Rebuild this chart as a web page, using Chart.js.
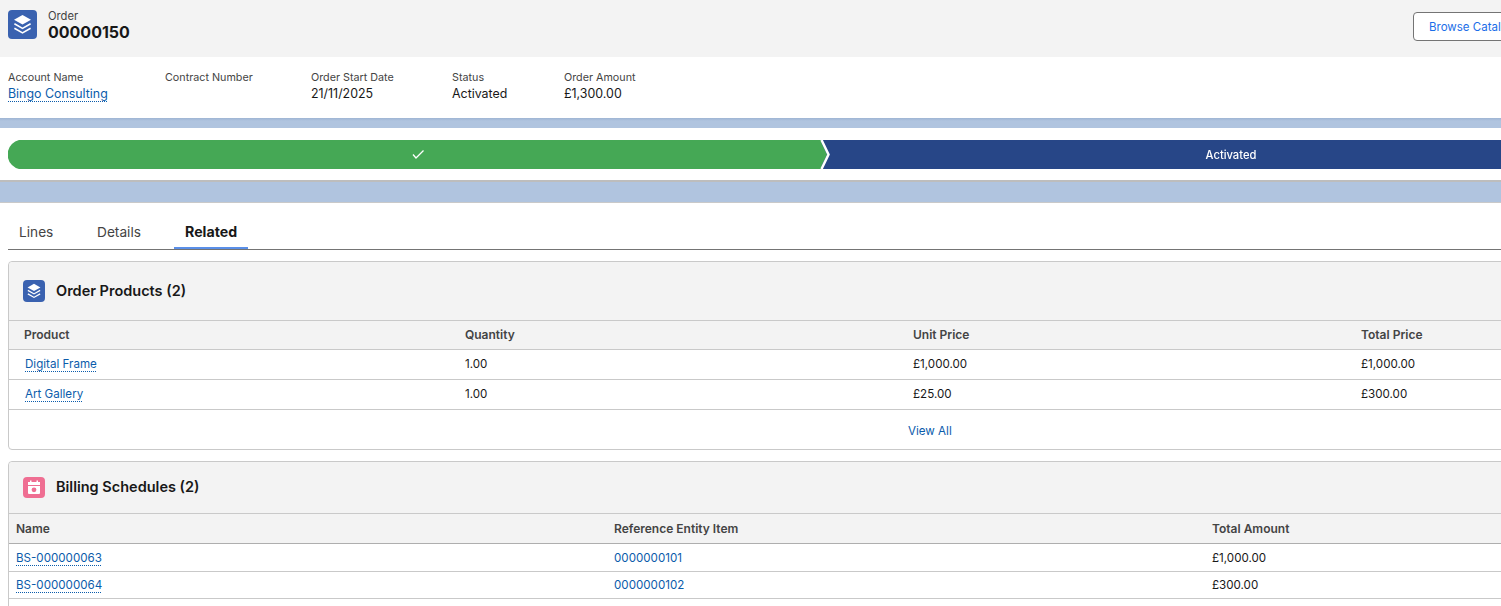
<!DOCTYPE html>
<html>
<head>
<meta charset="utf-8">
<title>Order 00000150</title>
<script src="https://cdn.jsdelivr.net/npm/chart.js@4/dist/chart.umd.js"></script>
<style>
  html, body { margin:0; padding:0; width:1501px; height:606px; overflow:hidden; background:#fff; }
  body { position:relative; font-family:Inter, "Noto Sans", sans-serif; color:#181818; }
  .abs, .t { position:absolute; }
  .t { white-space:nowrap; line-height:16px; transform:translateY(-8px); }
  .grey { background:#f3f3f3; }
  .band { position:absolute; left:0; width:1501px; background:#b0c4df; }
  .lbl { font-size:10.75px; color:#444; }
  .val { font-size:12.4px; color:#181818; }
  .line { position:absolute; height:1px; background:#c9c9c9; }
  .card { position:absolute; left:8px; width:1520px; border:1px solid #c9c9c9; border-radius:4px; box-sizing:border-box; }
  .cardTitle { font-size:14.5px; font-weight:600; color:#181818; }
  .colHead { font-size:12px; font-weight:600; color:#444; }
  .cell { font-size:11.6px; color:#181818; }
  .tab { font-size:13.7px; color:#444; }
  .lbl, .val, .colHead, .cell, .tab { transform:translateY(-7px); }
  .link { color:#0b5cab; text-decoration:underline dotted #0b5cab; text-underline-offset:3px; text-decoration-thickness:1px; }
  .icon { position:absolute; border-radius:4px; }
  #pathWrap { position:absolute; left:0; top:140px; width:1634px; height:29px; }
</style>
</head>
<body>

<div class="abs grey" style="left:0;top:0;width:1501px;height:57px"></div>
<div class="icon" style="left:8px;top:10px;width:29px;height:29px;background:#3a62b0">
  <svg width="29" height="29" viewBox="0 0 29 29"><g fill="#fff"><path d="M14.5 5 L23 9.8 L14.5 14.6 L6 9.8Z"/><path d="M6.8 13 L14.5 17.4 L22.2 13 L23 14.4 L14.5 19.2 L6 14.4Z"/><path d="M6.8 17.6 L14.5 22 L22.2 17.6 L23 19 L14.5 23.8 L6 19Z"/></g></svg>
</div>
<div class="t" style="left:48px;top:16px;font-size:11.2px;color:#444">Order</div>
<div class="t" style="left:48px;top:32px;font-size:16px;font-weight:700" id="orderNo"></div>

<div class="abs" style="left:1413px;top:12px;width:120px;height:29px;box-sizing:border-box;background:#fff;border:1px solid #747474;border-radius:4px"></div>
<div class="t" style="left:1429px;top:27px;font-size:11.5px;color:#1b6ee8">Browse Catalog</div>

<div id="fields"></div>

<div class="band" style="top:118px;height:10px;background:linear-gradient(#9fb5d4,#b0c4df 30%)"></div>
<div id="pathWrap"><canvas id="pathChart"></canvas></div>
<div class="band" style="top:180px;height:23px;background:linear-gradient(#bdbdbd 0,#bdbdbd 2px,#b0c4df 2px,#b0c4df 22px,#c9c9c9 22px)"></div>

<div id="tabs"></div>
<div class="abs" style="left:8px;top:249px;width:1493px;height:1px;background:#747474"></div>
<div class="abs" style="left:174px;top:247px;width:74px;height:2px;background:#5a8fe8"></div>

<div class="card" style="top:261px;height:189px">
  <div class="abs grey" style="left:0;top:0;width:100%;height:87px;border-radius:4px 4px 0 0"></div>
</div>
<div class="icon" style="left:23px;top:280px;width:22px;height:22px;background:#3a62b0">
  <svg width="22" height="22" viewBox="0 0 29 29"><g fill="#fff"><path d="M14.5 5 L23 9.8 L14.5 14.6 L6 9.8Z"/><path d="M6.8 13 L14.5 17.4 L22.2 13 L23 14.4 L14.5 19.2 L6 14.4Z"/><path d="M6.8 17.6 L14.5 22 L22.2 17.6 L23 19 L14.5 23.8 L6 19Z"/></g></svg>
</div>
<div class="t cardTitle" style="left:56px;top:291px">Order Products (2)</div>
<div id="products"></div>
<div class="t cell link" style="left:908px;top:430px;text-decoration:none">View All</div>

<div class="card" style="top:461px;height:170px">
  <div class="abs grey" style="left:0;top:0;width:100%;height:81px;border-radius:4px 4px 0 0"></div>
</div>
<div class="icon" style="left:23px;top:477px;width:22px;height:21px;background:#ef6e92">
  <svg width="22" height="21" viewBox="0 0 22 21"><rect x="5" y="5" width="12" height="12" rx="1" fill="#fff"/><rect x="5" y="5" width="12" height="3" fill="#fff"/><rect x="7" y="3.5" width="1.5" height="3" fill="#fff"/><rect x="13.5" y="3.5" width="1.5" height="3" fill="#fff"/><rect x="5" y="8" width="12" height="1" fill="#ef6e92"/><circle cx="11" cy="12.8" r="2.4" fill="#ef6e92"/></svg>
</div>
<div class="t cardTitle" style="left:56px;top:487px">Billing Schedules (2)</div>
<div id="billing"></div>

<script>
// ---- data ----
const orderNumber = '00000150';
const fieldLabels = ['Account Name', 'Contract Number', 'Order Start Date', 'Status', 'Order Amount'];
const fieldValues = ['Bingo Consulting', '', '21/11/2025', 'Activated', '£1,300.00'];
const tabNames = ['Lines', 'Details', 'Related'];

const pathStages = ['Completed', 'Activated'];
const pathValues = [1, 1];

const productHead = ['Product', 'Quantity', 'Unit Price', 'Total Price'];
const productNames = ['Digital Frame', 'Art Gallery'];
const productQty = ['1.00', '1.00'];
const productUnit = ['£1,000.00', '£25.00'];
const productTotal = ['£1,000.00', '£300.00'];

const billingHead = ['Name', 'Reference Entity Item', 'Total Amount'];
const billingNames = ['BS-000000063', 'BS-000000064'];
const billingRefs = ['0000000101', '0000000102'];
const billingTotals = ['£1,000.00', '£300.00'];

// ---- layout helpers ----
function addText(parent, txt, left, top, cls) {
  const d = document.createElement('div');
  d.className = 't ' + cls;
  d.style.left = left + 'px';
  d.style.top = top + 'px';
  d.textContent = txt;
  parent.appendChild(d);
  return d;
}
function addLine(parent, top, color) {
  const d = document.createElement('div');
  d.className = 'line';
  d.style.left = '9px';
  d.style.width = '1492px';
  d.style.top = top + 'px';
  if (color) d.style.background = color;
  parent.appendChild(d);
}

document.getElementById('orderNo').textContent = orderNumber;

// header fields
const fieldsEl = document.getElementById('fields');
const fieldX = [8, 165, 311, 452, 564];
fieldLabels.forEach((l, i) => {
  addText(fieldsEl, l, fieldX[i], 77, 'lbl');
  if (fieldValues[i]) addText(fieldsEl, fieldValues[i], fieldX[i], 93, 'val' + (i === 0 ? ' link' : ''));
});

// tabs
const tabsEl = document.getElementById('tabs');
const tabX = [19, 97, 185];
tabNames.forEach((n, i) => addText(tabsEl, n, tabX[i], 231, 'tab'));
tabsEl.lastChild.style.fontWeight = '700';
tabsEl.lastChild.style.fontSize = '14.2px';
tabsEl.lastChild.style.color = '#181818';

// order products table
const prodEl = document.getElementById('products');
const prodX = [24, 465, 913, 1361];
productHead.forEach((h, i) => addText(prodEl, h, prodX[i], 334, 'colHead'));
addLine(prodEl, 320);
addLine(prodEl, 349);
const prodRowY = [363, 393];
productNames.forEach((n, r) => {
  addText(prodEl, n, 25, prodRowY[r], 'cell link');
  addText(prodEl, productQty[r], prodX[1], prodRowY[r], 'cell');
  addText(prodEl, productUnit[r], prodX[2], prodRowY[r], 'cell');
  addText(prodEl, productTotal[r], prodX[3], prodRowY[r], 'cell');
});
addLine(prodEl, 379);
addLine(prodEl, 409);

// billing schedules table
const billEl = document.getElementById('billing');
const billX = [16, 614, 1212];
billingHead.forEach((h, i) => addText(billEl, h, billX[i], 528, 'colHead'));
addLine(billEl, 513);
addLine(billEl, 543, '#aeaeae');
const billRowY = [557, 584];
billingNames.forEach((n, r) => {
  addText(billEl, n, billX[0], billRowY[r], 'cell link');
  addText(billEl, billingRefs[r], billX[1], billRowY[r], 'cell link').style.textDecoration = 'none';
  addText(billEl, billingTotals[r], billX[2], billRowY[r], 'cell');
});
addLine(billEl, 571);
addLine(billEl, 598);

// ---- path bar (chart.js) ----
const GREEN = '#45a855', NAVY = '#274687';

const pathDecor = {
  id: 'pathDecor',
  afterDatasetsDraw(chart) {
    const ctx = chart.ctx, sx = chart.scales.x;
    const top = chart.chartArea.top, bot = chart.chartArea.bottom, mid = (top + bot) / 2;
    const xs = sx.getPixelForValue(pathValues[0]);
    ctx.save();
    // arrow between the two stages
    ctx.fillStyle = GREEN;
    ctx.beginPath();
    ctx.moveTo(xs - 1, top); ctx.lineTo(xs + 6, mid); ctx.lineTo(xs - 1, bot);
    ctx.closePath(); ctx.fill();
    ctx.strokeStyle = '#fff';
    ctx.lineWidth = 2.5;
    ctx.beginPath();
    ctx.moveTo(xs + 0.5, top); ctx.lineTo(xs + 7.5, mid); ctx.lineTo(xs + 0.5, bot);
    ctx.stroke();
    // check mark on done stage
    const cx = (sx.getPixelForValue(0) + xs) / 2 + 3.5;
    ctx.lineWidth = 1.3;
    ctx.beginPath();
    ctx.moveTo(cx - 5, mid); ctx.lineTo(cx - 2, mid + 3.5); ctx.lineTo(cx + 5.5, mid - 4);
    ctx.stroke();
    // current stage name
    const lx = (xs + sx.getPixelForValue(pathValues[0] + pathValues[1])) / 2 + 3.5;
    ctx.fillStyle = '#fff';
    ctx.font = '500 11.2px Inter, sans-serif';
    ctx.textAlign = 'center';
    ctx.textBaseline = 'middle';
    ctx.fillText(pathStages[1], lx, mid + 1);
    ctx.restore();
  }
};

new Chart(document.getElementById('pathChart'), {
  type: 'bar',
  data: {
    labels: ['Path'],
    datasets: [
      { label: pathStages[0], data: [pathValues[0]], backgroundColor: GREEN, borderSkipped: false,
        borderRadius: { topLeft: 15, bottomLeft: 15, topRight: 0, bottomRight: 0 } },
      { label: pathStages[1], data: [pathValues[1]], backgroundColor: NAVY, borderSkipped: false, borderRadius: 0 }
    ]
  },
  options: {
    indexAxis: 'y',
    responsive: true,
    maintainAspectRatio: false,
    animation: false,
    layout: { padding: { left: 8 } },
    datasets: { bar: { categoryPercentage: 1, barPercentage: 1 } },
    plugins: { legend: { display: false }, tooltip: { enabled: false } },
    scales: {
      x: { stacked: true, display: false, min: 0, max: 2 },
      y: { stacked: true, display: false }
    }
  },
  plugins: [pathDecor]
});
</script>
</body>
</html>
